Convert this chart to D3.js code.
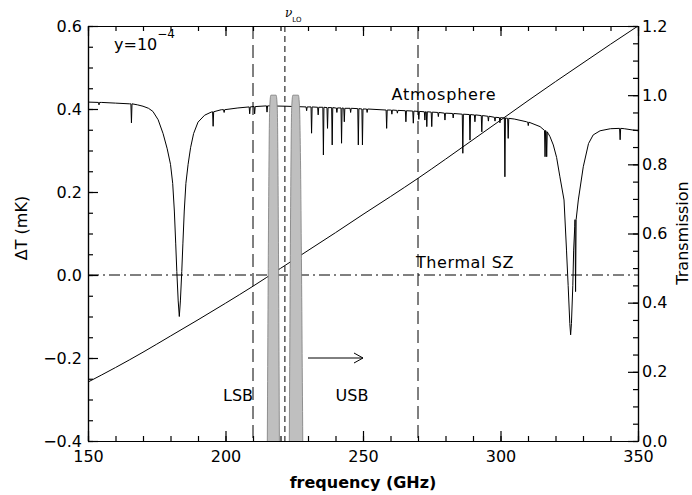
<!DOCTYPE html>
<html>
<head>
<meta charset="utf-8">
<script src="https://cdn.jsdelivr.net/npm/d3@7"></script>
<style>
  body { margin: 0; background: #fff; }
  svg { display: block; }
  text { font-family: "DejaVu Sans", sans-serif; fill: #000; }
  .axis path, .axis line { stroke: #000; stroke-width: 1.2; }
  .axis text { font-size: 16px; }
</style>
</head>
<body>
<div id="chart"></div>
<script>
/* CONSTANTS AND GLOBALS */
const width = 692, height = 495,
    m = { top: 26, bottom: 54, left: 88, right: 54 };

// tick labels
const freqTicks = [150, 200, 250, 300, 350];
const deltaTTicks = [-0.4, -0.2, 0.0, 0.2, 0.4, 0.6];
const transTicks = [0.0, 0.2, 0.4, 0.6, 0.8, 1.0, 1.2];

// thermal SZ decrement/increment for y = 1e-4 (mK)
const szFreq = [150, 160, 170, 180, 190, 200, 210, 220, 230, 240, 250,
    260, 270, 280, 290, 300, 310, 320, 330, 340, 350];
const szDeltaT = [-0.258, -0.223, -0.186, -0.147, -0.108, -0.068, -0.027, 0.016, 0.059, 0.102, 0.146,
    0.189, 0.233, 0.279, 0.326, 0.373, 0.420, 0.466, 0.511, 0.556, 0.600];

// atmospheric transmission, smooth part [GHz, transmission]
const atmoContinuum = [
    [150, 0.980], [155, 0.979], [160, 0.977], [165, 0.975], [168, 0.972], [170, 0.968],
    [172, 0.962], [173.6, 0.953], [175.5, 0.929], [177.3, 0.889], [178.8, 0.845],
    [180.0, 0.800], [180.8, 0.745], [181.4, 0.665], [181.9, 0.570], [182.3, 0.490],
    [182.8, 0.405], [183.2, 0.360], [183.6, 0.405], [184.1, 0.490], [184.5, 0.570],
    [185.0, 0.665], [185.6, 0.745], [186.4, 0.800], [187.3, 0.848], [188.4, 0.889],
    [190.0, 0.922], [192.4, 0.942], [194.8, 0.951], [198.5, 0.958], [204.5, 0.963],
    [210, 0.967], [215.5, 0.969],
    [222, 0.968], [230, 0.966], [240, 0.963], [250, 0.960], [260, 0.957], [270, 0.953],
    [280, 0.948], [290, 0.943], [300, 0.935], [305, 0.931], [309.5, 0.923], [314.4, 0.909],
    [317.3, 0.890], [318, 0.880], [319.2, 0.856], [320.4, 0.820], [321.6, 0.764],
    [323.1, 0.697], [324.0, 0.552], [324.6, 0.450], [325.2, 0.340], [325.5, 0.307],
    [325.8, 0.340], [326.3, 0.450], [326.6, 0.552], [327.0, 0.620], [328.3, 0.697],
    [330.1, 0.793], [332, 0.860], [333.7, 0.885], [336.2, 0.897], [340, 0.903],
    [345, 0.903], [350, 0.897]
];

// narrow absorption lines [GHz, level beside line, level at line centre]
const atmoLines = [
    [154.0, 0.979, 0.972], [165.8, 0.975, 0.920], [195.5, 0.952, 0.910], [199.5, 0.958, 0.950],
    [208.8, 0.966, 0.946], [210.6, 0.967, 0.946], [215.1, 0.969, 0.951], [229.5, 0.966, 0.955],
    [231.3, 0.966, 0.890], [233.7, 0.965, 0.943], [235.6, 0.965, 0.827], [237.1, 0.964, 0.904],
    [238.8, 0.964, 0.856], [240.5, 0.963, 0.950], [242.2, 0.963, 0.861], [243.2, 0.962, 0.923],
    [245.5, 0.962, 0.950], [248.3, 0.961, 0.856], [249.8, 0.960, 0.856], [251.5, 0.960, 0.950],
    [258.6, 0.957, 0.904], [260.5, 0.957, 0.945], [262.5, 0.956, 0.948], [265.6, 0.955, 0.923],
    [268.3, 0.954, 0.919], [270.3, 0.953, 0.930], [272.5, 0.952, 0.928], [273.2, 0.952, 0.909],
    [275.0, 0.951, 0.909], [277.4, 0.950, 0.938], [279.8, 0.948, 0.928], [282.8, 0.947, 0.934],
    [286.3, 0.945, 0.832], [288.9, 0.944, 0.870], [290.7, 0.943, 0.923], [293.2, 0.941, 0.894],
    [295.6, 0.939, 0.925], [298.0, 0.936, 0.925], [299.8, 0.935, 0.920], [301.6, 0.934, 0.764],
    [302.8, 0.933, 0.875], [310.1, 0.922, 0.912], [316.2, 0.898, 0.822], [316.8, 0.894, 0.822],
    [327.3, 0.640, 0.432], [343.5, 0.904, 0.871]
];

// receiver sideband passbands [GHz, transmission]
const lsbBand = [[215.2, 0.0], [216.1, 0.97], [216.5, 1.0], [218.4, 1.0], [218.8, 0.97], [219.6, 0.0]];
const usbBand = [[223.2, 0.0], [224.1, 0.97], [224.5, 1.0], [226.5, 1.0], [226.9, 0.97], [228.1, 0.0]];

// vertical markers (GHz)
const sidebandEdges = [210, 270];
const loFreq = 221.6;

/* SCALES */
const xScale = d3.scaleLinear().domain([150, 350]).range([m.left, width - m.right]);
const yScale = d3.scaleLinear().domain([-0.4, 0.6]).range([height - m.bottom, m.top]);
const yTrans = d3.scaleLinear().domain([0, 1.2]).range([height - m.bottom, m.top]);

const svg = d3.select("#chart")
    .append("svg")
    .attr("width", width)
    .attr("height", height)
    .attr("viewBox", `0 0 ${width} ${height}`);

svg.append("clipPath").attr("id", "plot-clip")
    .append("rect")
    .attr("x", m.left).attr("y", m.top)
    .attr("width", width - m.left - m.right)
    .attr("height", height - m.top - m.bottom);

const plot = svg.append("g").attr("clip-path", "url(#plot-clip)");

// zero line (dash-dot)
plot.append("line")
    .attr("x1", xScale(150)).attr("x2", xScale(350))
    .attr("y1", yScale(0)).attr("y2", yScale(0))
    .attr("stroke", "#000").attr("stroke-width", 1)
    .attr("stroke-dasharray", "11,4,2,4");

// sideband edge lines
plot.selectAll(".edge")
    .data(sidebandEdges)
    .enter()
    .append("line")
    .attr("class", "edge")
    .attr("x1", d => xScale(d)).attr("x2", d => xScale(d))
    .attr("y1", m.top).attr("y2", height - m.bottom)
    .attr("stroke", "#000").attr("stroke-width", 1)
    .attr("stroke-dasharray", "13,6");

// atmosphere: continuum plus narrow lines, sorted by frequency
const atmoPoints = atmoContinuum.concat(
    atmoLines.flatMap(d => [[d[0] - 0.2, d[1]], [d[0], d[2]], [d[0] + 0.2, d[1]]])
).sort((a, b) => a[0] - b[0]);

plot.append("path")
    .datum(atmoPoints)
    .attr("fill", "none")
    .attr("stroke", "#000")
    .attr("stroke-width", 1)
    .attr("d", d3.line().x(d => xScale(d[0])).y(d => yTrans(d[1])));

// thermal SZ
plot.append("path")
    .datum(d3.zip(szFreq, szDeltaT))
    .attr("fill", "none")
    .attr("stroke", "#000")
    .attr("stroke-width", 1)
    .attr("d", d3.line().x(d => xScale(d[0])).y(d => yScale(d[1])).curve(d3.curveMonotoneX));

// passbands
plot.selectAll(".band")
    .data([lsbBand, usbBand])
    .enter()
    .append("path")
    .attr("class", "band")
    .attr("fill", "#bfbfbf")
    .attr("stroke", "#7a7a7a")
    .attr("stroke-width", 0.8)
    .attr("d", d3.line().x(d => xScale(d[0])).y(d => yTrans(d[1])).curve(d3.curveMonotoneX));

// LO line
plot.append("line")
    .attr("x1", xScale(loFreq)).attr("x2", xScale(loFreq))
    .attr("y1", m.top).attr("y2", height - m.bottom)
    .attr("stroke", "#000").attr("stroke-width", 1)
    .attr("stroke-dasharray", "6,4");

// arrow towards the USB side
const ay = yScale(-0.2), ax0 = xScale(230), ax1 = xScale(250);
svg.append("path")
    .attr("fill", "none").attr("stroke", "#000").attr("stroke-width", 1)
    .attr("d", `M${ax0},${ay}H${ax1}M${ax1 - 9},${ay - 5}L${ax1},${ay}L${ax1 - 9},${ay + 5}`);

/* AXES */
function minor(lo, hi, step) {
    return d3.range(Math.round((hi - lo) / step) + 1).map(i => lo + i * step);
}

svg.append("g").attr("class", "axis")
    .attr("transform", `translate(0,${height - m.bottom})`)
    .call(d3.axisBottom(xScale).tickValues(freqTicks).tickSize(-10).tickSizeOuter(0).tickPadding(10).tickFormat(d3.format("d")));
svg.append("g").attr("class", "axis")
    .attr("transform", `translate(0,${height - m.bottom})`)
    .call(d3.axisBottom(xScale).tickValues(minor(150, 350, 10)).tickSize(-5).tickSizeOuter(0).tickFormat(""));
svg.append("g").attr("class", "axis")
    .attr("transform", `translate(0,${m.top})`)
    .call(d3.axisTop(xScale).tickValues(freqTicks).tickSize(-10).tickSizeOuter(0).tickFormat(""));
svg.append("g").attr("class", "axis")
    .attr("transform", `translate(0,${m.top})`)
    .call(d3.axisTop(xScale).tickValues(minor(150, 350, 10)).tickSize(-5).tickSizeOuter(0).tickFormat(""));

svg.append("g").attr("class", "axis")
    .attr("transform", `translate(${m.left},0)`)
    .call(d3.axisLeft(yScale).tickValues(deltaTTicks).tickSize(-10).tickSizeOuter(0).tickPadding(6).tickFormat(d3.format(".1f")));
svg.append("g").attr("class", "axis")
    .attr("transform", `translate(${m.left},0)`)
    .call(d3.axisLeft(yScale).tickValues(minor(-0.4, 0.6, 0.05)).tickSize(-5).tickSizeOuter(0).tickFormat(""));

svg.append("g").attr("class", "axis")
    .attr("transform", `translate(${width - m.right},0)`)
    .call(d3.axisRight(yTrans).tickValues(transTicks).tickSize(-10).tickSizeOuter(0).tickPadding(4).tickFormat(d3.format(".1f")));
svg.append("g").attr("class", "axis")
    .attr("transform", `translate(${width - m.right},0)`)
    .call(d3.axisRight(yTrans).tickValues(minor(0, 1.2, 0.05)).tickSize(-5).tickSizeOuter(0).tickFormat(""));

/* LABELS */
svg.append("text")
    .attr("x", (m.left + width - m.right) / 2).attr("y", 488)
    .attr("text-anchor", "middle")
    .style("font-size", "16px").style("font-weight", "bold")
    .text("frequency (GHz)");

svg.append("text")
    .attr("transform", `translate(27,${228}) rotate(-90)`)
    .attr("text-anchor", "middle")
    .style("font-size", "16px")
    .text("ΔT (mK)");

svg.append("text")
    .attr("transform", `translate(688,${233}) rotate(-90)`)
    .attr("text-anchor", "middle")
    .style("font-size", "16px")
    .text("Transmission");

const yLabel = svg.append("text")
    .attr("x", 114).attr("y", 50)
    .style("font-size", "16px");
yLabel.append("tspan").text("y=10");
yLabel.append("tspan").attr("dy", -12).style("font-size", "12px").text("−4");

svg.append("text")
    .attr("x", 444).attr("y", 100)
    .attr("text-anchor", "middle")
    .style("font-size", "16px").style("letter-spacing", "0.8px")
    .text("Atmosphere");

svg.append("text")
    .attr("x", 465).attr("y", 268)
    .attr("text-anchor", "middle")
    .style("font-size", "16px").style("letter-spacing", "0.6px")
    .text("Thermal SZ");

svg.append("text")
    .attr("x", 238).attr("y", 401)
    .attr("text-anchor", "middle")
    .style("font-size", "16px")
    .text("LSB");

svg.append("text")
    .attr("x", 352).attr("y", 401)
    .attr("text-anchor", "middle")
    .style("font-size", "16px")
    .text("USB");

const loLabel = svg.append("text")
    .attr("x", 285).attr("y", 17);
loLabel.append("tspan")
    .style("font-family", "'DejaVu Serif', serif").style("font-style", "italic").style("font-size", "12px")
    .text("ν");
loLabel.append("tspan").attr("dy", 5).style("font-size", "7px").text("LO");
</script>
</body>
</html>
